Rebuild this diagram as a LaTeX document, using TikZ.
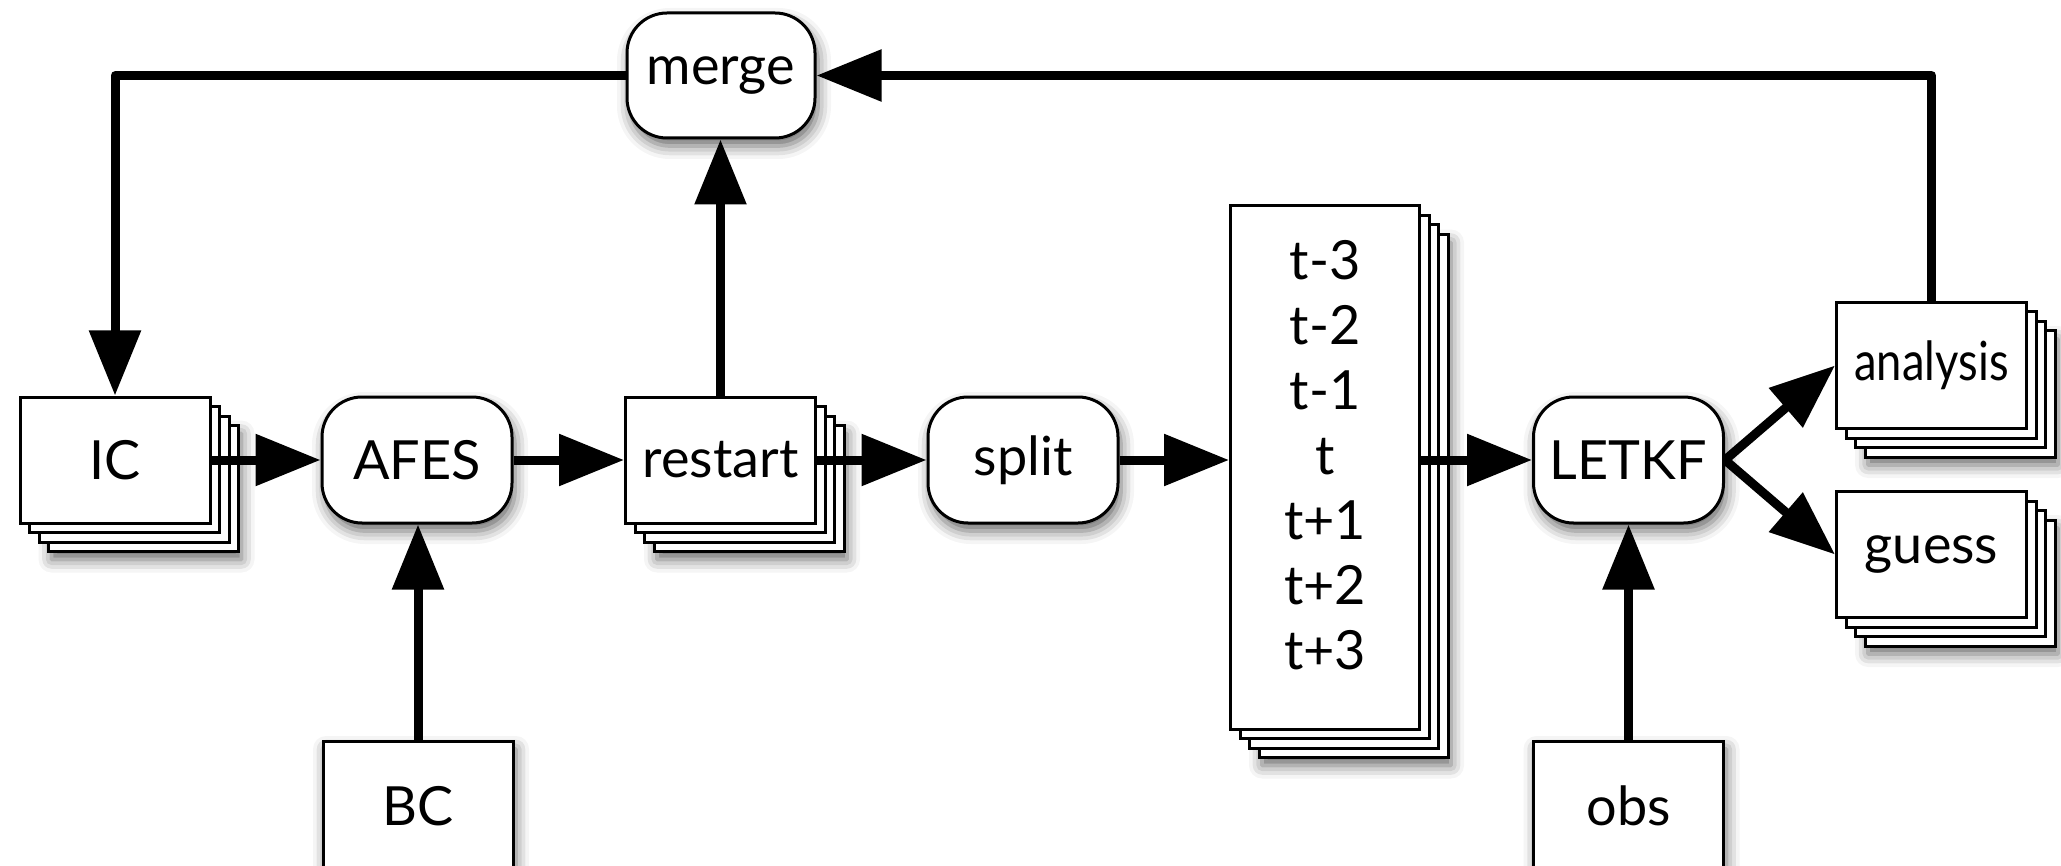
\documentclass[tikz,border=0pt]{standalone}
\usepackage{fontspec}
\setmainfont{Lato}
\usetikzlibrary{arrows.meta,shadows.blur}
\begin{document}
\begin{tikzpicture}[x=1pt,y=-1pt,
  txt/.style={font=\fontsize{54}{65}\selectfont},
  base/.style={draw=black, line width=3pt, fill=white, minimum width=190pt,
    minimum height=126pt, inner sep=0pt, txt},
  shad/.style={blur shadow={shadow xshift=3pt, shadow yshift=-8pt,
    shadow blur radius=13pt, shadow opacity=60}},
  sheet/.style={base, rectangle},
  tallsheet/.style={sheet, minimum width=189pt, minimum height=523pt},
  procbox/.style={base, rounded corners=40pt, shad},
  arr/.style={line width=9pt, line join=round, -{Triangle[length=65pt,width=50pt]}},
]
\useasboundingbox (0,0) rectangle (2061,866);
\clip (0,0) rectangle (2061,866);

% back sheets of the stacked documents
\foreach \n/\x/\y in {ic/115/460, rs/720.5/460, an/1931.5/365.5, gu/1931.5/554.5}{
  \node[sheet,shad] (\n b3) at (\x+28.5,\y+28.5) {};
  \node[sheet] (\n b2) at (\x+19,\y+19) {};
  \node[sheet] (\n b1) at (\x+9.5,\y+9.5) {};
}
\node[tallsheet,shad] (tb3) at (1325+28.5,467.5+28.5) {};
\node[tallsheet] (tb2) at (1325+19,467.5+19) {};
\node[tallsheet] (tb1) at (1325+9.5,467.5+9.5) {};

% front nodes
\node[sheet] (ic) at (115,460) {IC};
\node[procbox] (afes) at (417,460) {AFES};
\node[sheet] (restart) at (720.5,460) {restart};
\node[procbox] (split) at (1023,460) {split};
\node[tallsheet] (times) at (1325,467.5) {};
\node[txt,align=center,inner sep=0pt] (timestext) at (1325,455)
  {t-3\\t-2\\t-1\\t\\t+1\\t+2\\t+3};
\node[procbox] (letkf) at (1628.5,460) {LETKF};
\node[procbox,minimum width=188pt,minimum height=125pt] (merge) at (721,75.5) {merge};
\node[sheet,shad,minimum height=130pt] (bc) at (418,806) {BC};
\node[sheet,shad,minimum height=130pt] (obs) at (1628.5,806) {obs};
\node[sheet] (analysis) at (1931.5,365.5) {\scalebox{0.84}[1]{analysis}};
\node[sheet] (guess) at (1931.5,554.5) {guess};

% connectors
\draw[arr] (ic.east) -- (afes.west);
\draw[arr] (afes.east) -- (restart.west);
\draw[arr] (restart.east) -- (split.west);
\draw[arr] (split.east) -- (split.east -| times.west);
\draw[arr] (letkf.west -| times.east) -- (letkf.west);
\draw[arr] (bc.north) -- (bc.north |- afes.south);
\draw[arr] (obs.north) -- (obs.north |- letkf.south);
\draw[arr] (restart.north) -- (restart.north |- merge.south);
\draw[arr] (merge.west) -| (ic.north);
\draw[arr] (analysis.north) |- (merge.east);
\draw[arr] (letkf.east) -- (analysis.west);
\draw[arr] (letkf.east) -- (guess.west);
\end{tikzpicture}
\end{document}
